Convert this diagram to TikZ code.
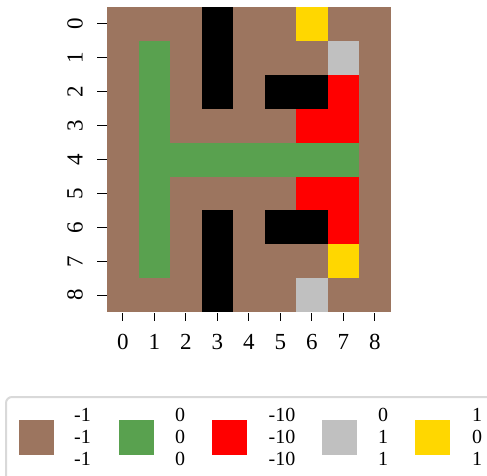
\documentclass[tikz,border=0pt]{standalone}
\usepackage{fontspec}
\setmainfont{Liberation Serif}
\usetikzlibrary{positioning}
\definecolor{cbrown}{HTML}{9C755F}
\definecolor{cgreen}{HTML}{59A14F}
\definecolor{cred}{HTML}{FF0000}
\definecolor{cgrey}{HTML}{C0C0C0}
\definecolor{cgold}{HTML}{FFD700}
\definecolor{cframe}{HTML}{D9D9D9}

\begin{document}
\begin{tikzpicture}[x=1pt,y=-1pt,
    ticklab/.style={font=\fontsize{23}{23}\selectfont, inner sep=0pt},
    leglab/.style={font=\fontsize{20}{22}\selectfont, inner sep=0pt, align=center},
    legkey/.style={minimum width=35pt, minimum height=35pt, inner sep=0pt}]
    \useasboundingbox (0,0) rectangle (487,476);
    \clip (0,0) rectangle (487,476);
    \def\cw{31.5} \def\ch{33.9}

    % Heatmap: brown background, then the other cells (col/row/colour)
    \fill[cbrown] (107,7) rectangle ++({9*\cw},{9*\ch});
    \foreach \c/\r/\col in {3/0/black, 6/0/cgold,
        1/1/cgreen, 3/1/black, 7/1/cgrey,
        1/2/cgreen, 3/2/black, 5/2/black, 6/2/black, 7/2/cred,
        1/3/cgreen, 6/3/cred, 7/3/cred,
        1/4/cgreen, 2/4/cgreen, 3/4/cgreen, 4/4/cgreen, 5/4/cgreen, 6/4/cgreen, 7/4/cgreen,
        1/5/cgreen, 6/5/cred, 7/5/cred,
        1/6/cgreen, 3/6/black, 5/6/black, 6/6/black, 7/6/cred,
        1/7/cgreen, 3/7/black, 7/7/cgold,
        3/8/black, 6/8/cgrey}
        \fill[\col] ({107+\c*\cw},{7+\r*\ch}) rectangle ++(\cw,\ch);

    % Axes: ticks and labels
    \foreach \i in {0,...,8} {
        \coordinate (xt\i) at ({107+(\i+0.5)*\cw},313);
        \draw[line width=1pt] (xt\i) -- ++(0,8);
        \node[ticklab] (xl\i) at ({107+(\i+0.5)*\cw},342) {\i};
        \coordinate (yt\i) at (97,{7+(\i+0.5)*\ch});
        \draw[line width=1pt] (yt\i) -- ++(10,0);
        \node[ticklab, rotate=90] (yl\i) at (75,{7+(\i+0.5)*\ch}) {\i};
    }

    % Legend
    \draw[cframe, line width=2pt, rounded corners=6pt] (6,397) rectangle (520,500);
    \node[legkey, fill=cbrown] (kbrown) at (36.5,437.5) {};
    \node[leglab] (tbrown) at (82.5,437) {-1\\-1\\-1};
    \node[legkey, fill=cgreen] (kgreen) at (136.5,437.5) {};
    \node[leglab] (tgreen) at (180,437) {0\\0\\0};
    \node[legkey, fill=cred] (kred) at (229.5,437.5) {};
    \node[leglab] (tred) at (282,437) {-10\\-10\\-10};
    \node[legkey, fill=cgrey] (kgrey) at (339.5,437.5) {};
    \node[leglab] (tgrey) at (383,437) {0\\1\\1};
    \node[legkey, fill=cgold] (kgold) at (432.5,437.5) {};
    \node[leglab] (tgold) at (477,437) {1\\0\\1};
\end{tikzpicture}
\end{document}
